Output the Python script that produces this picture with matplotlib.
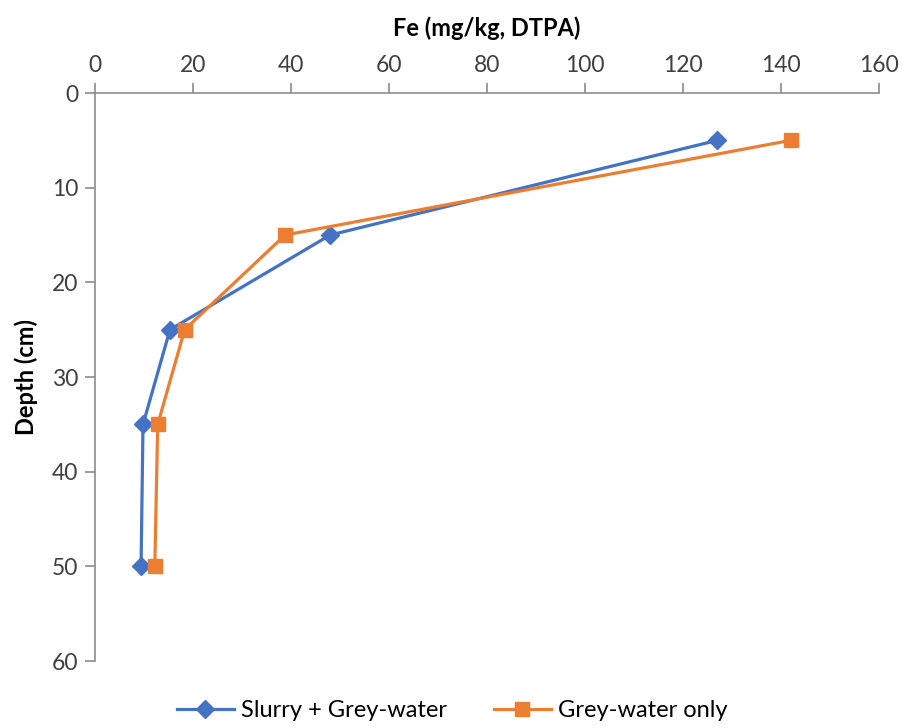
import matplotlib.pyplot as plt

plt.rcParams['font.family'] = ['Lato', 'DejaVu Sans']

depth = [5, 15, 25, 35, 50]
fe_slurry = [127, 48, 15.3, 9.8, 9.4]
fe_grey = [142, 38.8, 18.3, 12.8, 12.2]

fig = plt.figure(figsize=(9.04, 7.28), dpi=100)
ax = fig.add_axes([95 / 904, 1 - 661 / 728, 784 / 904, 568 / 728])

ax.plot(fe_slurry, depth, color='#4472C4', lw=2.3, marker='D', ms=9,
        label='Slurry + Grey-water')
ax.plot(fe_grey, depth, color='#ED7D31', lw=2.3, marker='s', ms=10,
        label='Grey-water only')

ax.set_xlim(0, 160)
ax.set_ylim(60, 0)
ax.set_xticks(range(0, 161, 20))
ax.set_yticks(range(0, 61, 10))

ax.xaxis.tick_top()
ax.xaxis.set_label_position('top')
for s in ['right', 'bottom']:
    ax.spines[s].set_visible(False)
for s in ['left', 'top']:
    ax.spines[s].set_color('#8c8c8c')
    ax.spines[s].set_linewidth(1.2)
ax.tick_params(axis='both', colors='#8c8c8c', length=7, width=1.2,
               labelcolor='#404040', labelsize=16.5, pad=5)

ax.set_xlabel('Fe (mg/kg, DTPA)', fontsize=17, fontweight='bold', labelpad=14)
ax.set_ylabel('Depth (cm)', fontsize=17, fontweight='bold', labelpad=10)

fig.legend(loc='lower center', ncol=2, frameon=False, fontsize=17,
           bbox_to_anchor=(0.5, -0.02), handlelength=2.4, handletextpad=0.3,
           columnspacing=2.0)

fig.savefig('out.png', dpi=100)
